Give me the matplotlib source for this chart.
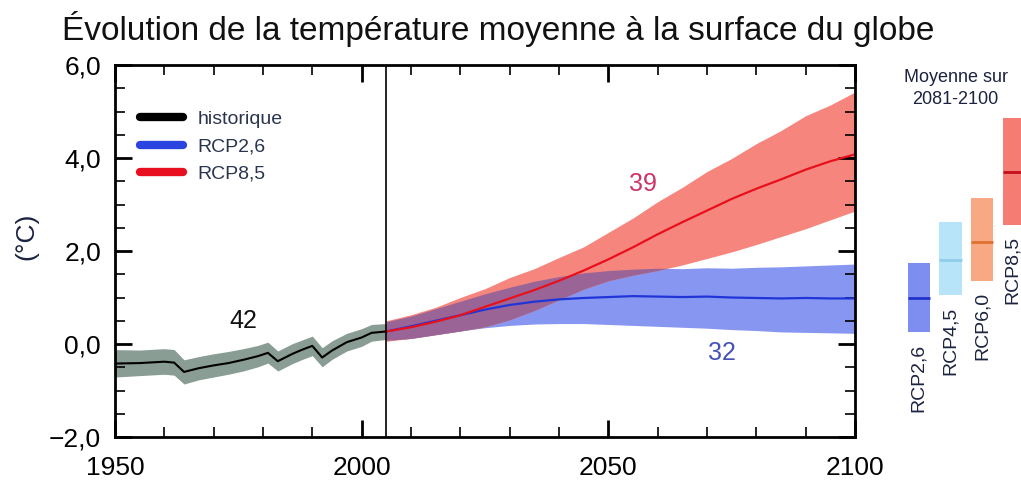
import matplotlib
matplotlib.use('Agg')
import matplotlib.pyplot as plt
from matplotlib.lines import Line2D
from matplotlib.ticker import MultipleLocator, FuncFormatter
import numpy as np

plt.rcParams['font.family'] = ['Liberation Sans', 'DejaVu Sans']

# historical simulations (multi-model mean and spread)
hist_years = [1950, 1955, 1960, 1962, 1964, 1967, 1970, 1973, 1976, 1979, 1981,
              1983, 1986, 1988, 1990, 1992, 1994, 1997, 2000, 2002, 2005]
hist_mean = [-0.42, -0.41, -0.38, -0.40, -0.60, -0.52, -0.46, -0.41, -0.34, -0.26, -0.19,
             -0.37, -0.21, -0.12, -0.04, -0.29, -0.14, 0.04, 0.14, 0.24, 0.27]
hist_high = [-0.12, -0.13, -0.10, -0.12, -0.34, -0.27, -0.21, -0.16, -0.10, -0.03, 0.04,
             -0.15, 0.01, 0.09, 0.17, -0.08, 0.07, 0.23, 0.33, 0.42, 0.44]
hist_low = [-0.71, -0.68, -0.65, -0.67, -0.86, -0.77, -0.71, -0.65, -0.58, -0.49, -0.41,
            -0.58, -0.42, -0.33, -0.25, -0.49, -0.33, -0.15, -0.05, 0.06, 0.10]

# projections
proj_years = [2005, 2010, 2015, 2020, 2025, 2030, 2035, 2040, 2045, 2050, 2055,
              2060, 2065, 2070, 2075, 2080, 2085, 2090, 2095, 2100]
rcp85_mean = [0.27, 0.36, 0.48, 0.62, 0.80, 0.98, 1.16, 1.36, 1.58, 1.82, 2.08,
              2.36, 2.62, 2.87, 3.12, 3.34, 3.54, 3.75, 3.93, 4.08]
rcp85_high = [0.50, 0.63, 0.79, 1.00, 1.19, 1.43, 1.62, 1.86, 2.09, 2.40, 2.71,
              3.06, 3.37, 3.71, 3.99, 4.31, 4.59, 4.91, 5.14, 5.42]
rcp85_low = [0.06, 0.12, 0.20, 0.28, 0.37, 0.52, 0.72, 0.95, 1.18, 1.36, 1.48,
             1.58, 1.70, 1.84, 1.98, 2.14, 2.31, 2.48, 2.67, 2.86]
rcp26_mean = [0.27, 0.38, 0.50, 0.62, 0.74, 0.84, 0.91, 0.96, 0.99, 1.01, 1.03,
              1.02, 1.01, 1.02, 1.00, 0.99, 0.98, 0.99, 0.98, 0.98]
rcp26_high = [0.48, 0.60, 0.76, 0.92, 1.08, 1.22, 1.35, 1.45, 1.53, 1.58, 1.61,
              1.63, 1.62, 1.64, 1.63, 1.65, 1.66, 1.68, 1.70, 1.72]
rcp26_low = [0.08, 0.12, 0.20, 0.28, 0.35, 0.40, 0.43, 0.44, 0.44, 0.42, 0.40,
             0.38, 0.36, 0.34, 0.31, 0.29, 0.26, 0.25, 0.24, 0.23]

# 2081-2100 averages per scenario
scenarios = ['RCP2,6', 'RCP4,5', 'RCP6,0', 'RCP8,5']
avg_mean = [1.0, 1.8, 2.2, 3.7]
avg_low = [0.25, 1.05, 1.35, 2.56]
avg_high = [1.74, 2.62, 3.14, 4.86]
box_colors = ['#7d8df0', '#b7e4f8', '#f8a882', '#f57c73']
mean_colors = ['#2233c8', '#8fcde8', '#e0712f', '#c40f1c']

fig = plt.figure(figsize=(10.21, 4.86), dpi=100)
ax = fig.add_axes([0.1126, 0.1008, 0.7248, 0.7654])

ax.fill_between(hist_years, hist_low, hist_high, color='#899d94', lw=0)
ax.fill_between(proj_years, rcp26_low, rcp26_high, color='#8796f0', lw=0)
ax.fill_between(proj_years, rcp85_low, rcp85_high, color='#f6867d', lw=0)
ov_low = np.maximum(rcp26_low, rcp85_low)
ov_high = np.minimum(rcp26_high, rcp85_high)
ax.fill_between(proj_years, ov_low, ov_high, where=ov_high > ov_low,
                interpolate=True, color='#9a6596', lw=0)

ax.plot(hist_years, hist_mean, color='black', lw=1.5)
ax.plot(proj_years, rcp26_mean, color='#2035d8', lw=1.6)
ax.plot(proj_years, rcp85_mean, color='#e8101c', lw=1.6)
ax.axvline(2005, color='black', lw=1.2)

ax.text(1976, 0.5, '42', fontsize=18, color='#111111', ha='center', va='center')
ax.text(2057, 3.45, '39', fontsize=18, color='#cc3366', ha='center', va='center')
ax.text(2073, -0.2, '32', fontsize=18, color='#4452b8', ha='center', va='center')

ax.set_xlim(1950, 2100)
ax.set_ylim(-2, 6)
ax.xaxis.set_major_locator(MultipleLocator(50))
ax.xaxis.set_minor_locator(MultipleLocator(10))
ax.yaxis.set_major_locator(MultipleLocator(2))
ax.yaxis.set_minor_locator(MultipleLocator(0.5))
ax.yaxis.set_major_formatter(FuncFormatter(lambda v, p: f'{v:.1f}'.replace('.', ',').replace('-', '\u2212')))
ax.tick_params(which='both', direction='in', top=True, right=True, labelsize=19)
ax.tick_params(which='major', length=12, width=2)
ax.tick_params(which='minor', length=7, width=1.2)
ax.tick_params(axis='x', pad=14)
ax.tick_params(axis='y', pad=10)
for s in ax.spines.values():
    s.set_linewidth(2)
ax.set_ylabel('(°C)', fontsize=19, color='#1c2340')
ax.yaxis.set_label_coords(-0.104, 0.54)

handles = [Line2D([], [], color='black', lw=6, solid_capstyle='round'),
           Line2D([], [], color='#2a44e0', lw=6, solid_capstyle='round'),
           Line2D([], [], color='#e81020', lw=6, solid_capstyle='round')]
leg = ax.legend(handles, ['historique', 'RCP2,6', 'RCP8,5'], loc='upper left',
                bbox_to_anchor=(0.01, 0.925), frameon=False, fontsize=14,
                handlelength=2.2, handletextpad=0.75, labelspacing=0.5)
for t in leg.get_texts():
    t.set_color('#2a3450')

# side panel with 2081-2100 means
side = fig.add_axes([0.8844, 0.1008, 0.1242, 0.7654])
side.set_xlim(-0.5, 3.5)
side.set_ylim(-2, 6)
side.axis('off')
xs = np.arange(len(scenarios))
side.bar(xs, np.array(avg_high) - np.array(avg_low), bottom=avg_low, width=0.7,
         color=box_colors, lw=0)
for i in range(len(scenarios)):
    side.hlines(avg_mean[i], xs[i] - 0.35, xs[i] + 0.35, color=mean_colors[i], lw=2)
    side.annotate(scenarios[i], (xs[i] - 0.05 * (i == 3), avg_low[i]), xytext=(0, -8),
                  textcoords='offset points', rotation=90, ha='center', va='top',
                  fontsize=14, color='#1c2340')
fig.text(0.936, 0.818, 'Moyenne sur\n2081-2100', fontsize=13, color='#1c2340',
         ha='center', va='center', linespacing=1.45)

fig.text(0.061, 0.94, 'Évolution de la température moyenne à la surface du globe',
         fontsize=24, color='#111111', ha='left', va='center')

fig.savefig('out.png', dpi=100)
